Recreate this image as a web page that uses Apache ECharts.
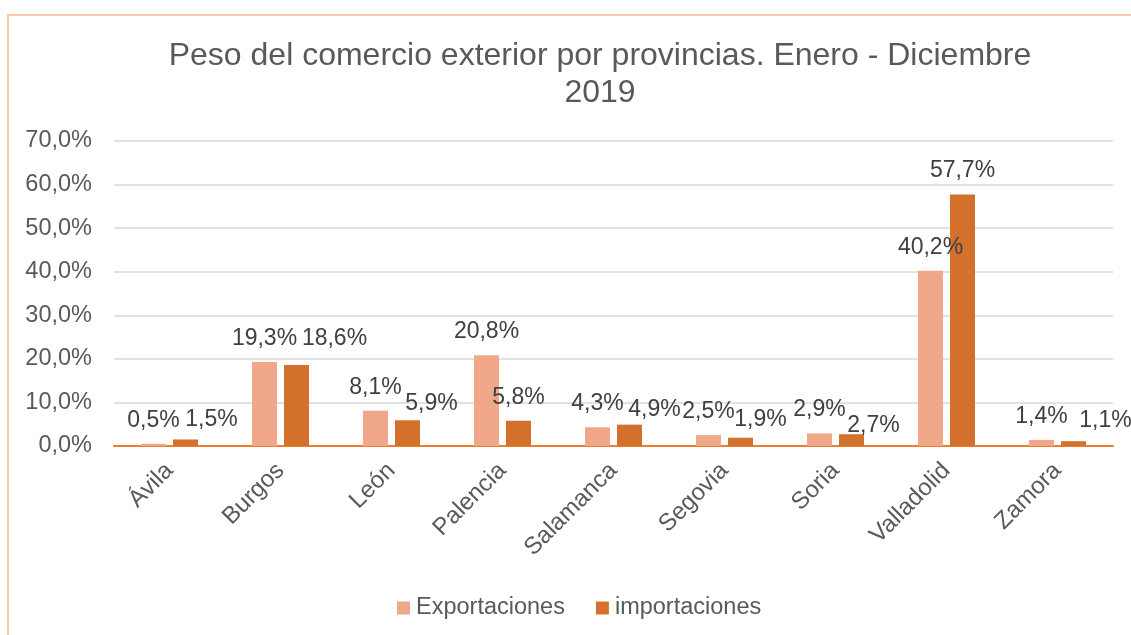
<!DOCTYPE html>
<html><head><meta charset="utf-8">
<script src="https://cdn.jsdelivr.net/npm/echarts@6/dist/echarts.min.js"></script>
<style>html,body{margin:0;padding:0;background:#fff}#c{width:1131px;height:635px}</style>
</head><body><div id="c"></div>
<script>
const provinces = ['Ávila','Burgos','León','Palencia','Salamanca','Segovia','Soria','Valladolid','Zamora'];
const exportaciones = [0.5, 19.3, 8.1, 20.8, 4.3, 2.5, 2.9, 40.2, 1.4];
const importaciones = [1.5, 18.6, 5.9, 5.8, 4.9, 1.9, 2.7, 57.7, 1.1];
const yTicks = {min: 0, max: 70, interval: 10};
// label nudges (pixels) for the importaciones labels, as placed in the original
const importLabelShift = [[26,4],[38,-3],[24,7],[0,0],[25,9],[20,5],[22,15],[0,0],[32,3]];

const FONT = '"Liberation Sans", Arial, sans-serif';
const fmt = v => v.toFixed(1).replace('.', ',') + '%';
const labelBase = {show: true, position: 'top', distance: 12, fontSize: 23, color: '#404040', fontFamily: FONT,
  formatter: p => fmt(p.value)};

const chart = echarts.init(document.getElementById('c'), null, {renderer: 'canvas'});
chart.setOption({
  animation: false,
  backgroundColor: '#fff',
  textStyle: {fontFamily: FONT},
  graphic: [{type: 'rect', shape: {x: 8, y: 15, width: 1300, height: 800}, style: {fill: 'none', stroke: '#F8CBAD', lineWidth: 2}, silent: true}],
  title: {text: 'Peso del comercio exterior por provincias. Enero - Diciembre\n2019', left: 595, top: 33, textAlign: 'center',
    textStyle: {fontSize: 32, fontWeight: 'normal', color: '#595959', fontFamily: FONT, lineHeight: 37}},
  legend: {left: 392, top: 591, itemWidth: 13, itemHeight: 13, itemGap: 31, icon: 'rect',
    textStyle: {fontSize: 23.5, color: '#595959', fontFamily: FONT, padding: [0,0,0,1]}},
  grid: {left: 114, right: 18, top: 141, bottom: 189, containLabel: false},
  xAxis: {type: 'category', data: provinces,
    axisLine: {lineStyle: {color: '#ED7D31', width: 2}}, axisTick: {show: false},
    axisLabel: {rotate: 45, fontSize: 24, color: '#595959', fontFamily: FONT, margin: 21, interval: 0}},
  yAxis: {type: 'value', min: yTicks.min, max: yTicks.max, interval: yTicks.interval,
    axisLine: {show: false}, axisTick: {show: false},
    splitLine: {lineStyle: {color: '#D9D9D9', width: 1.5}},
    axisLabel: {fontSize: 23.5, color: '#595959', fontFamily: FONT, margin: 22, formatter: v => v.toFixed(1).replace('.', ',') + '%'}},
  series: [
    {name: 'Exportaciones', type: 'bar', data: exportaciones, barWidth: 25, barGap: '28%',
      itemStyle: {color: '#F1A88A'}, label: labelBase},
    {name: 'importaciones', type: 'bar', data: importaciones.map((v, i) => ({value: v,
        label: {offset: importLabelShift[i]}})), barWidth: 25, barGap: '28%',
      itemStyle: {color: '#D2702C'}, label: labelBase}
  ]
});
</script></body></html>
